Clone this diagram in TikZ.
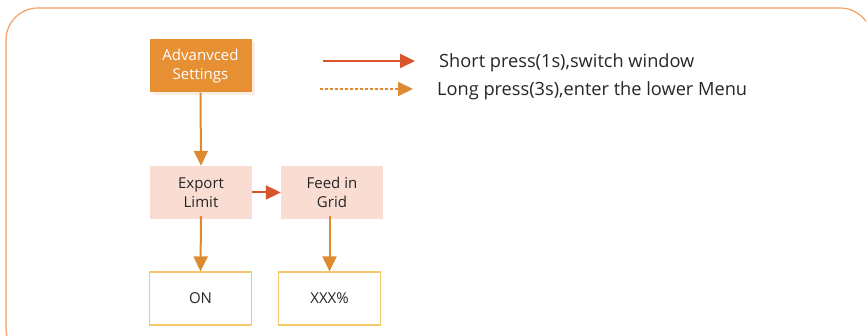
\documentclass[tikz,border=0pt]{standalone}
\usepackage{fontspec}
\setmainfont{Open Sans}
\usetikzlibrary{arrows.meta,shadows}
\definecolor{frameor}{HTML}{F4A065}
\definecolor{advor}{HTML}{E68F33}
\definecolor{arrowor}{HTML}{DE8A30}
\definecolor{arrowred}{HTML}{D9542C}
\definecolor{pinkfill}{HTML}{F9DCD2}
\definecolor{valborder}{HTML}{F7C76B}
\definecolor{shadowc}{HTML}{FBEDE3}
\definecolor{textc}{HTML}{262626}
\tikzset{
  box/.style={minimum width=102pt, minimum height=53pt, align=center, inner sep=0pt,
    font=\fontsize{15}{18.5}\selectfont, text=textc},
  advbox/.style={box, fill=advor, text=white, drop shadow={shadow xshift=3pt, shadow yshift=-3pt, fill=shadowc, opacity=1}},
  menubox/.style={box, fill=pinkfill},
  valbox/.style={box, draw=valborder, line width=1.2pt, fill=white},
  longarrow/.style={draw=arrowor, line width=2pt, -{Triangle[length=15pt,width=14pt]}},
  shortarrow/.style={draw=arrowred, line width=2pt, -{Triangle[length=15pt,width=14pt]}},
  legendtext/.style={anchor=west, font=\fontsize{18.2}{21}\selectfont, text=textc, inner sep=0pt},
}
\begin{document}
\begin{tikzpicture}[x=1pt,y=-1pt]
\useasboundingbox (0,0) rectangle (866,336);
\clip (0,0) rectangle (866,336);
\draw[frameor, line width=1.2pt, rounded corners=32pt] (6,8) rectangle (872,360);
% nodes
\node[advbox] (adv) at (200.5,66) {Advanvced\\Settings};
\node[menubox] (exp) at (201,192.5) {Export\\Limit};
\node[menubox] (feed) at (332,192.5) {Feed in\\Grid};
\node[valbox] (on) at (200.5,298.5) {ON};
\node[valbox] (xxx) at (329.5,298.5) {XXX\%};
% connectors
\draw[longarrow] (adv.south) -- (exp.north);
\draw[shortarrow] (exp.east) -- (feed.west);
\draw[longarrow] ([yshift=3pt]exp.south) -- (on.north);
\draw[longarrow] ([yshift=3pt]feed.south -| xxx.north) -- (xxx.north);
% legend
\coordinate (l1a) at (323,61);
\coordinate (l1b) at (415,61);
\coordinate (l2a) at (320,89);
\coordinate (l2b) at (413,89);
\draw[shortarrow] (l1a) -- (l1b);
\draw[longarrow, dash pattern=on 3pt off 2pt] (l2a) -- (l2b);
\node[legendtext] (t1) at (439,63) {Short press(1s),switch window};
\node[legendtext] (t2) at (437,91) {Long press(3s),enter the lower Menu};
\end{tikzpicture}
\end{document}
